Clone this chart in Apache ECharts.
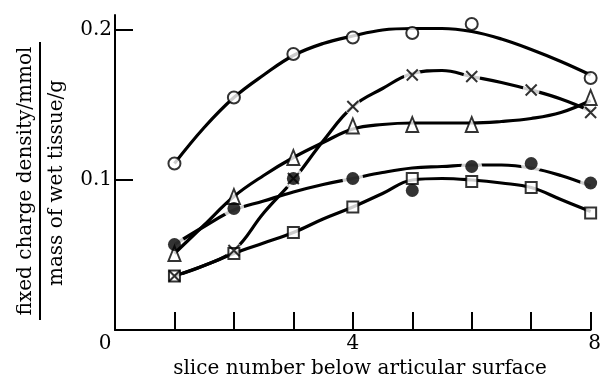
<!DOCTYPE html>
<html>
<head>
<meta charset="utf-8">
<script src="https://cdn.jsdelivr.net/npm/echarts@6/dist/echarts.min.js"></script>
<style>
  html, body { margin: 0; padding: 0; background: #fff; }
  #chart { width: 604px; height: 385px; }
</style>
</head>
<body>
<div id="chart"></div>
<script>
// Slice positions below the articular surface
const slices = [1, 2, 3, 4, 5, 6, 7, 8];

// Measured fixed charge density (mmol per g wet tissue); null = no measurement
const openCircles   = [0.111, 0.155, 0.184, 0.195, 0.198, 0.204, null, 0.168];
const crosses       = [0.036, 0.053, 0.101, 0.149, 0.170, 0.169, 0.160, 0.145];
const triangles     = [0.051, 0.089, 0.115, 0.136, 0.137, 0.137, null, 0.155];
const filledCircles = [0.057, 0.081, 0.101, 0.101, 0.093, 0.109, 0.111, 0.098];
const squares       = [0.036, 0.051, 0.065, 0.082, 0.101, 0.099, 0.095, 0.078];

// Hand-drawn trend curves, read every half slice
const curveSlices = [1, 1.5, 2, 2.5, 3, 3.5, 4, 4.5, 5, 5.5, 6, 6.5, 7, 7.5, 8];
const openCircleCurve   = [0.111, 0.135, 0.155, 0.170, 0.183, 0.191, 0.196, 0.200, 0.201, 0.201, 0.199, 0.194, 0.187, 0.179, 0.170];
const crossCurve        = [0.036, 0.043, 0.053, 0.078, 0.100, 0.126, 0.149, 0.161, 0.171, 0.173, 0.169, 0.165, 0.160, 0.154, 0.146];
const triangleCurve     = [0.051, 0.070, 0.089, 0.103, 0.115, 0.125, 0.134, 0.137, 0.138, 0.138, 0.138, 0.139, 0.141, 0.145, 0.153];
const filledCircleCurve = [0.057, 0.069, 0.080, 0.086, 0.092, 0.097, 0.101, 0.105, 0.108, 0.109, 0.110, 0.110, 0.108, 0.103, 0.096];
const squareCurve       = [0.036, 0.043, 0.051, 0.058, 0.065, 0.074, 0.082, 0.091, 0.100, 0.101, 0.100, 0.098, 0.095, 0.087, 0.079];

// Axis tick labels
const xTickLabels = [0, 4, 8];
const yTickLabels = [0.1, 0.2];

const FONT = 'DejaVu Serif';
const INK = '#000';

const pairs = (xs, vals) => xs.map((s, i) => [s, vals[i]]).filter(p => p[1] != null);

function curve(vals, z) {
  return {
    type: 'line', data: pairs(curveSlices, vals), smooth: 0.4, showSymbol: false, silent: true,
    lineStyle: { color: INK, width: 3.2 }, z: z, animation: false
  };
}
function marks(vals, symbol, size, style, z) {
  return {
    type: 'scatter', data: pairs(slices, vals), symbol: symbol, symbolSize: size,
    itemStyle: style, z: z, silent: true, animation: false, clip: false
  };
}
// white ring that breaks a curve around its own markers
function halo(vals, size) {
  return marks(vals, 'circle', size, { color: '#fff', borderWidth: 0 }, 3);
}

const crossPath = 'path://M0,0L10,10M10,0L0,10';
const textStyle = { fill: INK, font: '20px "DejaVu Serif"', textAlign: 'center', textVerticalAlign: 'middle' };
const labelFont = { color: INK, fontFamily: FONT, fontSize: 20 };

const option = {
  backgroundColor: '#fff',
  animation: false,
  grid: { left: 115, right: 5, top: 15, bottom: 55 },
  xAxis: {
    type: 'value', min: 0, max: 8, interval: 1,
    axisLine: { show: true, lineStyle: { color: INK, width: 2 } },
    axisTick: { show: true, inside: true, length: 18, lineStyle: { color: INK, width: 2 },
                customValues: slices },
    splitLine: { show: false },
    axisLabel: Object.assign({
      customValues: xTickLabels, margin: 4,
      // the origin label sits left of the corner; the last one hugs the right edge
      formatter: v => v === 0 ? '{o|0}' : (v === 8 ? '{e|8}' : String(v)),
      rich: {
        o: Object.assign({ padding: [0, 20, 0, 0] }, labelFont),
        e: Object.assign({ padding: [0, 0, 0, 8] }, labelFont)
      }
    }, labelFont)
  },
  yAxis: {
    type: 'value', min: 0, max: 0.21, interval: 0.1,
    axisLine: { show: true, lineStyle: { color: INK, width: 2 } },
    axisTick: { show: true, inside: true, length: 18, lineStyle: { color: INK, width: 2 },
                customValues: yTickLabels },
    splitLine: { show: false },
    axisLabel: Object.assign({
      customValues: yTickLabels, margin: 3,
      formatter: v => v.toFixed(1)
    }, labelFont)
  },
  graphic: [
    // x axis title
    { type: 'text', x: 360, y: 369,
      style: Object.assign({ text: 'slice number below articular surface' }, textStyle) },
    // y axis title as a fraction: quantity over unit
    { type: 'text', x: 26, y: 181, rotation: Math.PI / 2,
      style: Object.assign({ text: 'fixed charge density/mmol' }, textStyle) },
    { type: 'line', shape: { x1: 40, y1: 42, x2: 40, y2: 320 },
      style: { stroke: INK, lineWidth: 2 } },
    { type: 'text', x: 57, y: 183, rotation: Math.PI / 2,
      style: Object.assign({ text: 'mass of wet tissue/g' }, textStyle) }
  ],
  series: [
    // broken curves: drawn first, then cut around their markers
    curve(crossCurve, 2),
    curve(filledCircleCurve, 2),
    halo(crosses, 17),
    halo(filledCircles, 21),
    // continuous curves
    curve(openCircleCurve, 4),
    curve(triangleCurve, 4),
    curve(squareCurve, 4),
    // markers
    marks(openCircles, 'circle', 12, { color: '#fff', borderColor: INK, borderWidth: 2 }, 5),
    marks(triangles, 'triangle', [12, 15], { color: '#fff', borderColor: INK, borderWidth: 2 }, 5),
    marks(squares, 'rect', 11, { color: '#fff', borderColor: INK, borderWidth: 2 }, 5),
    marks(filledCircles, 'circle', 13, { color: INK, borderWidth: 0 }, 5),
    marks(crosses, crossPath, 11, { color: 'rgba(0,0,0,0)', borderColor: INK, borderWidth: 2 }, 6)
  ]
};

echarts.init(document.getElementById('chart'), null, { renderer: 'canvas' }).setOption(option);
</script>
</body>
</html>
